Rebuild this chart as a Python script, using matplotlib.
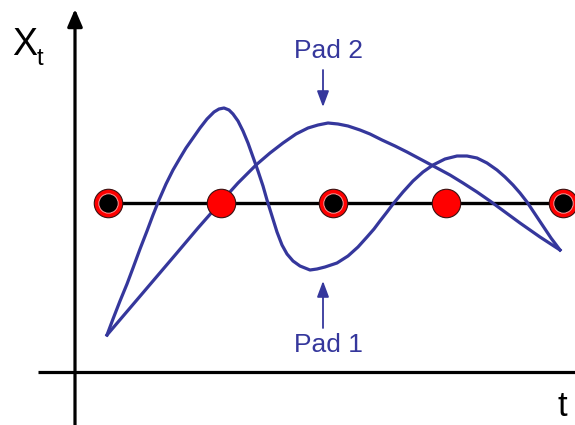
import matplotlib
matplotlib.use("Agg")
import matplotlib.pyplot as plt

# ---- data (pixel-like coordinate space) ----
pad1_x = [107, 113, 120, 127, 133, 140, 147, 153, 159, 166, 173, 180, 186, 193, 200, 207,
          214, 219, 224, 229, 233, 238, 243, 248, 253, 258, 263, 267, 272, 277, 282, 287,
          293, 300, 310, 317, 325, 337, 348, 358, 367, 374, 380, 387, 393, 403, 413, 423,
          433, 445, 457, 467, 477, 487, 497, 505, 513, 520, 527, 535, 543, 551, 560]
pad1_y = [335, 319, 301, 284, 268, 249, 231, 215, 200, 184, 170, 158, 148, 138, 128, 119,
          112, 109, 108, 110, 114, 121, 131, 143, 157, 171, 186, 200, 216, 232, 245, 254,
          261, 266, 270, 269, 267, 263, 256, 247, 237, 229, 221, 212, 204, 192, 181, 172,
          165, 159, 156, 156, 158, 163, 170, 177, 185, 193, 202, 214, 226, 238, 250]

pad2_x = [107, 130, 153, 176, 198, 220, 238, 256, 270, 283, 296, 308, 318, 328, 338, 348,
          360, 370, 382, 395, 407, 422, 437, 450, 463, 477, 490, 505, 520, 540, 560]
pad2_y = [335, 308, 281, 254, 228, 203, 183, 165, 153, 143, 134, 128, 125, 123, 124, 126,
          130, 134, 140, 146, 152, 160, 168, 175, 183, 192, 201, 212, 223, 237, 250]

level_y = 203
ring_x = [108, 333, 563]
solid_x = [221, 446]

labels = {"pad1": "Pad 1", "pad2": "Pad 2", "ylab": "X", "ysub": "t", "xlab": "t"}

BLUE = "#35379c"
plt.rcParams["font.family"] = ["Liberation Sans", "DejaVu Sans"]

fig = plt.figure(figsize=(5.75, 4.25), dpi=100)
ax = fig.add_axes([0, 0, 1, 1])
ax.set_xlim(0, 575)
ax.set_ylim(425, 0)
ax.axis("off")

# axes
ax.annotate("", xy=(75, 9), xytext=(75, 430),
            arrowprops=dict(arrowstyle="-|>,head_length=0.7,head_width=0.3", lw=2.3,
                            color="black", mutation_scale=15, shrinkA=0, shrinkB=0))
ax.plot([38, 575], [372, 372], color="black", lw=2.3, solid_capstyle="butt")

# level line
ax.plot([108, 563], [level_y, level_y], color="black", lw=2.4, zorder=2)

# curves
ax.plot(pad1_x, pad1_y, color=BLUE, lw=2.3, solid_joinstyle="round", zorder=3)
ax.plot(pad2_x, pad2_y, color=BLUE, lw=2.3, solid_joinstyle="round", zorder=3)

# markers
ax.plot(solid_x, [level_y] * len(solid_x), "o", ms=20.5, mfc="#ff0000", mec="#3a1010",
        mew=0.8, zorder=4, linestyle="none")
ax.plot(ring_x, [level_y] * len(ring_x), "o", ms=20.5, mfc="#ff0000", mec="#3a1010",
        mew=0.8, zorder=4, linestyle="none")
ax.plot(ring_x, [level_y] * len(ring_x), "o", ms=14, mfc="black", mec="#ff9a9a",
        mew=0.7, zorder=5, linestyle="none")

# labels
ax.text(12, 55, labels["ylab"], fontsize=27, color="black", va="baseline", ha="left")
ax.text(37, 65, labels["ysub"], fontsize=17, color="black", va="baseline", ha="left")
ax.text(558, 416, labels["xlab"], fontsize=25, color="black", va="baseline", ha="left")

ax.text(329, 58, labels["pad2"], fontsize=19, color=BLUE, va="baseline", ha="center")
ax.text(328, 352, labels["pad1"], fontsize=19, color=BLUE, va="baseline", ha="center")

ax.annotate("", xy=(323, 107), xytext=(323, 70),
            arrowprops=dict(arrowstyle="-|>,head_length=0.8,head_width=0.3", lw=1.3,
                            color=BLUE, mutation_scale=12, shrinkA=0, shrinkB=0))
ax.annotate("", xy=(323, 281), xytext=(323, 328),
            arrowprops=dict(arrowstyle="-|>,head_length=0.8,head_width=0.3", lw=1.3,
                            color=BLUE, mutation_scale=12, shrinkA=0, shrinkB=0))

fig.savefig("out.png", dpi=100, facecolor="white")
